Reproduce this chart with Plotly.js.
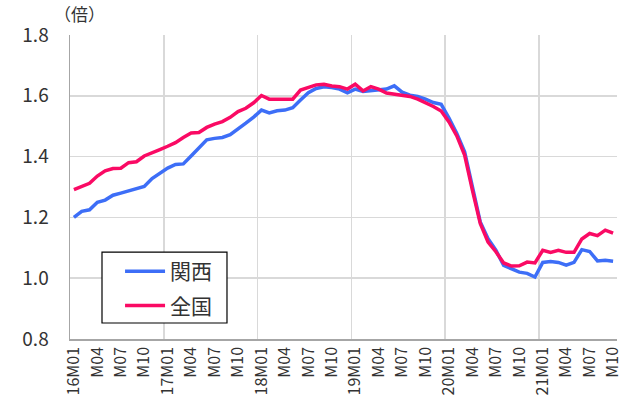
<!DOCTYPE html>
<html>
<head>
<meta charset="utf-8">
<script src="https://cdn.plot.ly/plotly-3.0.1.min.js"></script>
<style>html,body{margin:0;padding:0;background:#fff;}#chart{width:631px;height:405px;}</style>
</head>
<body>
<div id="chart"></div>
<script>
// Month labels (16M01 ... 21M10)
const months = [];
for (let y = 16; y <= 21; y++) {
  for (let m = 1; m <= 12; m++) {
    if (y === 21 && m > 10) break;
    months.push(y + 'M' + (m < 10 ? '0' + m : m));
  }
}
const tickIdx = [0,3,6,9,12,15,18,21,24,27,30,33,36,39,42,45,48,51,54,57,60,63,66,69];
const tickLabels = ['16M01','M04','M07','M10','17M01','M04','M07','M10','18M01','M04','M07','M10',
                    '19M01','M04','M07','M10','20M01','M04','M07','M10','21M01','M04','M07','M10'];

// 関西 (Kansai)
const kansai = [1.20,1.22,1.225,1.25,1.257,1.273,1.28,1.287,1.296,1.302,1.328,1.345,
                1.362,1.374,1.376,1.402,1.43,1.455,1.46,1.463,1.472,1.49,1.51,1.53,
                1.553,1.544,1.551,1.553,1.561,1.586,1.61,1.624,1.63,1.627,1.622,1.61,
                1.622,1.614,1.616,1.619,1.622,1.633,1.612,1.602,1.598,1.589,1.578,1.572,
                1.527,1.476,1.416,1.30,1.185,1.13,1.092,1.042,1.031,1.02,1.016,1.004,
                1.052,1.055,1.052,1.043,1.052,1.094,1.088,1.057,1.059,1.056];
// 全国 (National)
const zenkoku = [1.291,1.30,1.312,1.336,1.353,1.361,1.362,1.38,1.383,1.402,1.411,1.423,
                 1.434,1.446,1.463,1.478,1.479,1.496,1.507,1.515,1.529,1.548,1.559,1.577,
                 1.601,1.589,1.589,1.589,1.589,1.619,1.627,1.636,1.638,1.632,1.63,1.622,
                 1.638,1.616,1.63,1.622,1.609,1.605,1.60,1.598,1.589,1.578,1.565,1.55,
                 1.514,1.468,1.405,1.289,1.18,1.119,1.087,1.05,1.04,1.041,1.053,1.05,
                 1.092,1.085,1.092,1.085,1.085,1.129,1.147,1.14,1.158,1.148];

const xIdx = months.map((_, i) => i);
const yearBounds = [11.5, 23.5, 35.5, 47.5, 59.5];

const font = "'Noto Sans CJK JP', 'Noto Sans', sans-serif";

const traces = [
  {x: xIdx, y: kansai, name: '関西', type: 'scatter', mode: 'lines', legendgroup: 'a',
   line: {color: '#3D6EF7', width: 3.5}},
  {x: xIdx, y: zenkoku, name: '全国', type: 'scatter', mode: 'lines', legendgroup: 'b',
   line: {color: '#FA0A64', width: 3.5}}
];

const layout = {
  width: 631, height: 405,
  margin: {l: 70, r: 14, t: 35, b: 66},
  paper_bgcolor: '#fff', plot_bgcolor: '#fff',
  font: {family: font, color: '#333'},
  showlegend: true,
  legend: {x: 0.0915, y: 0.289, xanchor: 'left', yanchor: 'top',
           borderwidth: 0, bgcolor: 'rgba(0,0,0,0)',
           font: {size: 21, family: font, color: '#333'},
           traceorder: 'grouped', tracegroupgap: 4, itemwidth: 40},
  shapes: [{type: 'rect', xref: 'paper', yref: 'paper',
            x0: 0.0585, x1: 0.287, y0: 0.0526, y1: 0.286,
            line: {color: '#000', width: 1.2}, fillcolor: '#fff', layer: 'above'}],
  xaxis: {
    range: [-0.5, 69.5],
    tickmode: 'array', tickvals: tickIdx, ticktext: tickLabels,
    tickangle: -90, tickfont: {size: 16, family: font, color: '#333'},
    showgrid: false, zeroline: false,
    showline: true, linecolor: '#a6a6a6', linewidth: 1.5,
    ticks: '',
    minor: {tickmode: 'array', tickvals: yearBounds, showgrid: true,
            gridcolor: '#d9d9d9', gridwidth: 1.5, ticks: ''}
  },
  yaxis: {
    range: [0.8, 1.8], dtick: 0.2, tickformat: '.1f',
    tickfont: {size: 19, family: font, color: '#333'},
    showgrid: true, gridcolor: '#d9d9d9', gridwidth: 1.5,
    zeroline: false, showline: true, linecolor: '#a6a6a6', linewidth: 1.5,
    ticks: '', ticklabelstandoff: 16
  },
  annotations: [{
    text: '（倍）', xref: 'paper', yref: 'paper', x: 0.017, y: 1.072,
    xanchor: 'center', yanchor: 'middle', showarrow: false,
    font: {size: 17, family: font, color: '#333'}
  }]
};

Plotly.newPlot('chart', traces, layout, {staticPlot: true, displayModeBar: false});
</script>
</body>
</html>
